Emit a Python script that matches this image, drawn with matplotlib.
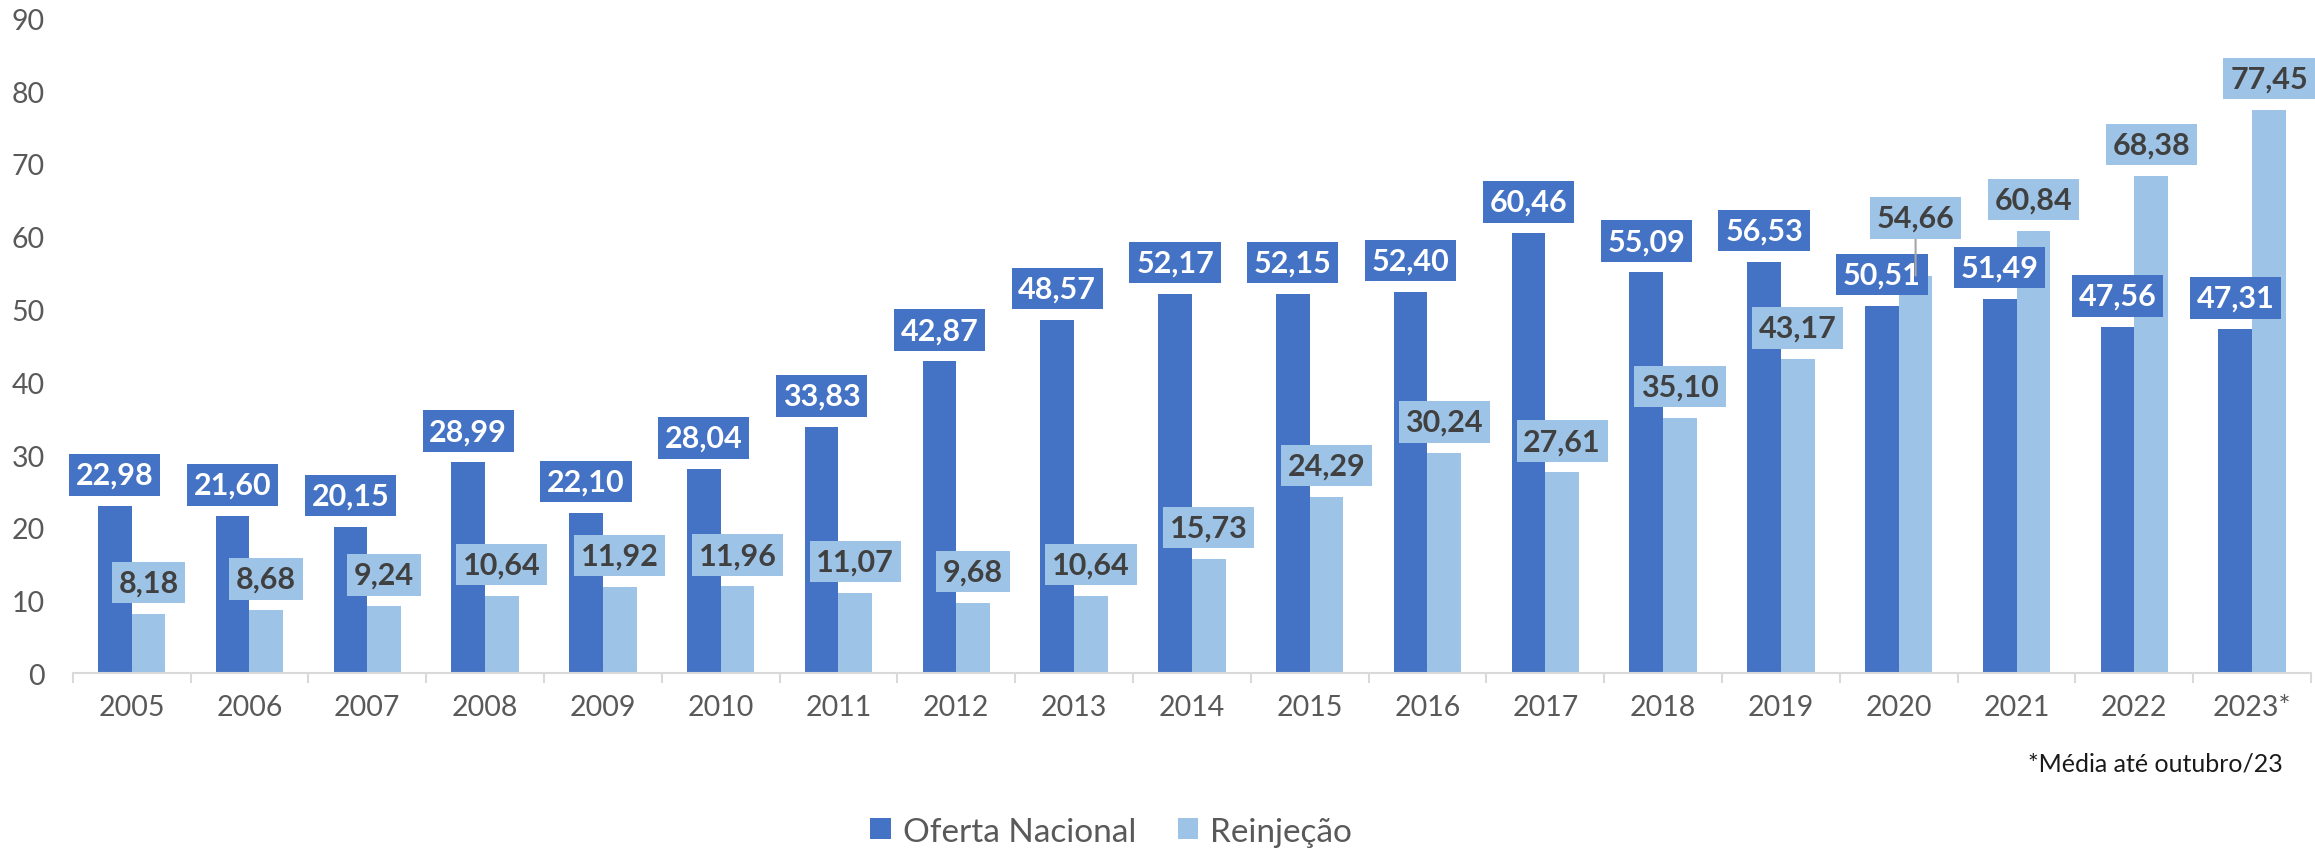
import matplotlib
matplotlib.use("Agg")
import matplotlib.pyplot as plt
import numpy as np
from matplotlib.ticker import FixedLocator, MultipleLocator
from matplotlib.patches import Patch

plt.rcParams['font.family'] = ['Lato', 'DejaVu Sans']

years = ['2005', '2006', '2007', '2008', '2009', '2010', '2011', '2012', '2013',
         '2014', '2015', '2016', '2017', '2018', '2019', '2020', '2021', '2022', '2023*']
oferta_nacional = [22.98, 21.60, 20.15, 28.99, 22.10, 28.04, 33.83, 42.87, 48.57,
                   52.17, 52.15, 52.40, 60.46, 55.09, 56.53, 50.51, 51.49, 47.56, 47.31]
reinjecao = [8.18, 8.68, 9.24, 10.64, 11.92, 11.96, 11.07, 9.68, 10.64,
             15.73, 24.29, 30.24, 27.61, 35.10, 43.17, 54.66, 60.84, 68.38, 77.45]
series_names = ['Oferta Nacional', 'Reinjeção']
footnote = '*Média até outubro/23'

DARK = '#4472C4'
LIGHT = '#9DC3E6'
TICK_GREY = '#595959'

fig = plt.figure(figsize=(23.15, 8.53), dpi=100)
ax = fig.add_axes([0.0314, 0.2093, 0.9669, 0.7681])

x = np.arange(len(years))
w = 0.286
ax.bar(x - w / 2, oferta_nacional, width=w, color=DARK, zorder=2)
ax.bar(x + w / 2, reinjecao, width=w, color=LIGHT, zorder=2)

ax.set_xlim(-0.5, len(years) - 0.5)
ax.set_ylim(0, 90)

ax.yaxis.set_major_locator(MultipleLocator(10))
ax.tick_params(axis='y', length=0, pad=20, labelsize=20.5, labelcolor=TICK_GREY)
ax.set_xticks(x)
ax.set_xticklabels(years)
ax.xaxis.set_minor_locator(FixedLocator(np.arange(-0.5, len(years), 1.0)))
ax.tick_params(axis='x', which='major', length=0, pad=15, labelsize=20.5, labelcolor=TICK_GREY)
ax.tick_params(axis='x', which='minor', length=7.5, width=1.5, color='#D9D9D9')

for s in ['top', 'right', 'left']:
    ax.spines[s].set_visible(False)
ax.spines['bottom'].set_color('#D9D9D9')
ax.spines['bottom'].set_linewidth(1.5)


def fmt(v):
    return f'{v:.2f}'.replace('.', ',')


base_off = 22.5  # points above bar top to box center
for i, v in enumerate(oferta_nacional):
    ax.annotate(fmt(v), xy=(i - w / 2, v), xytext=(0, base_off), textcoords='offset points',
                ha='center', va='center', fontsize=22, fontweight='bold', color='white',
                bbox=dict(boxstyle='square,pad=0.22', fc=DARK, ec='none'), zorder=5)

for i, v in enumerate(reinjecao):
    off = base_off
    arrow = None
    if years[i] == '2020':
        off = base_off + 19
        arrow = dict(arrowstyle='-', color='#A6A6A6', lw=1.5, shrinkA=0, shrinkB=0)
    ax.annotate(fmt(v), xy=(i + w / 2, v), xytext=(0, off), textcoords='offset points',
                ha='center', va='center', fontsize=22, fontweight='bold', color='#404040',
                bbox=dict(boxstyle='square,pad=0.22', fc=LIGHT, ec='none'),
                arrowprops=arrow, zorder=6)

handles = [Patch(facecolor=DARK, edgecolor='none', label=series_names[0]),
           Patch(facecolor=LIGHT, edgecolor='none', label=series_names[1])]
leg = fig.legend(handles=handles, loc='center', bbox_to_anchor=(0.48, 0.024), ncol=2,
                 frameon=False, fontsize=24, handlelength=0.62, handleheight=0.6,
                 handletextpad=0.35, columnspacing=1.25, borderaxespad=0)
for t in leg.get_texts():
    t.set_color(TICK_GREY)

fig.text(0.986, 0.104, footnote, ha='right', va='center', fontsize=18, color='#1A1A1A')

fig.savefig('out.png', dpi=100)
